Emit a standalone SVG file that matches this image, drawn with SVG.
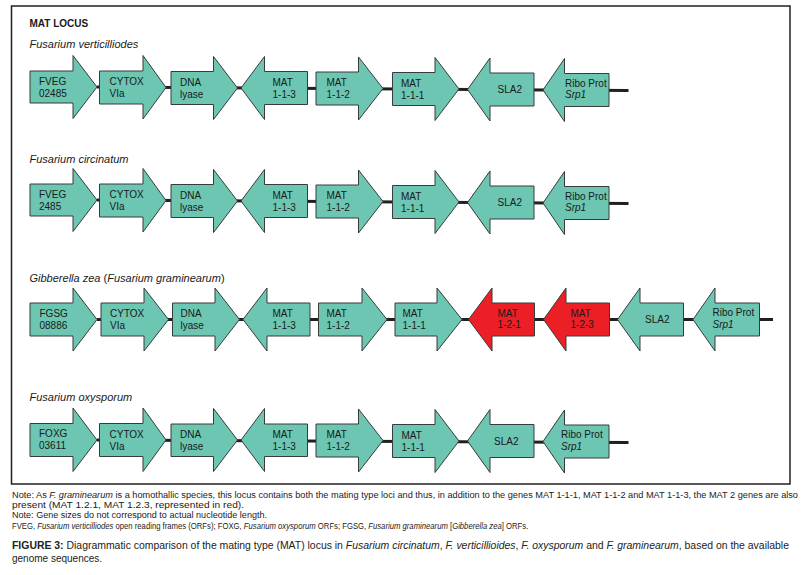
<svg xmlns="http://www.w3.org/2000/svg" width="801" height="575" viewBox="0 0 801 575">
<style>
.bg{fill:#ffffff}
.frame{fill:none;stroke:#231f20;stroke-width:1.5}
.g{fill:#6cc6b1;stroke:#3a3a3a;stroke-width:1}
.r{fill:#ed1f26;stroke:#3a3a3a;stroke-width:1}
.ln{fill:none;stroke:#231f20;stroke-width:3}
text{font-family:"Liberation Sans",Arial,sans-serif;fill:#1a1a1a}
.lb{font-size:10px}
.sp{font-size:11px;font-style:italic}
.it{font-style:italic}
.hd{font-size:10px;font-weight:bold}
.nt{font-size:8.4px;fill:#222}
.cp{font-size:10px;fill:#222}
.b{font-weight:bold}
</style>
<rect class="bg" x="0" y="0" width="801" height="575"/>
<rect class="frame" x="11.5" y="6" width="778.5" height="478"/>
<text class="hd" x="29.5" y="27.3">MAT LOCUS</text>
<text class="sp" x="29.5" y="47.7">Fusarium verticilliodes</text>
<text class="sp" x="29.5" y="163.3">Fusarium circinatum</text>
<text class="sp" x="29.5" y="281.7"><tspan>Gibberella zea</tspan><tspan font-style="normal"> (</tspan><tspan>Fusarium graminearum</tspan><tspan font-style="normal">)</tspan></text>
<text class="sp" x="29.5" y="401">Fusarium oxysporum</text>

<g id="connectors">
<path class="ln" d="M97 87 L628.5 90.5"/>
<path class="ln" d="M97 200 L628.5 203.5"/>
<path class="ln" d="M97 319.5 H773"/>
<path class="ln" d="M97 440 L628.5 442.5"/>
</g>

<!-- Row 1: Fusarium verticilliodes -->
<g id="row1">
<g id="r1-fveg"><path class="g" d="M30 71 H73 V55.5 L97 87 L73 118.5 V103 H30 Z"/><text class="lb" x="39" y="84.5">FVEG</text><text class="lb" x="39" y="96.5">02485</text></g>
<g id="r1-cytox"><path class="g" d="M99.5 71 H143 V55.5 L166 87.5 L143 119 V104 H99.5 Z"/><text class="lb" x="109.5" y="85">CYTOX</text><text class="lb" x="109.5" y="97">VIa</text></g>
<g id="r1-dna"><path class="g" d="M171 71.5 H213.5 V56.5 L237.5 88 L213.5 119.5 V104.5 H171 Z"/><text class="lb" x="180" y="85.5">DNA</text><text class="lb" x="180" y="97.5">lyase</text></g>
<g id="r1-mat113"><path class="g" d="M241 88 L264.5 56.5 V71.5 H307.5 V104.5 H264.5 V119.5 Z"/><text class="lb" x="272.5" y="85.5">MAT</text><text class="lb" x="272.5" y="97.5">1-1-3</text></g>
<g id="r1-mat112"><path class="g" d="M316 72 H358.5 V57 L383 88.5 L358.5 120 V105 H316 Z"/><text class="lb" x="326.5" y="86">MAT</text><text class="lb" x="326.5" y="98">1-1-2</text></g>
<g id="r1-mat111"><path class="g" d="M392.5 72.5 H435 V57.5 L459 89 L435 120.5 V105.5 H392.5 Z"/><text class="lb" x="401" y="86.5">MAT</text><text class="lb" x="401" y="98.5">1-1-1</text></g>
<g id="r1-sla2"><path class="g" d="M467.5 89.5 L490 58 V73 H534 V106 H490 V121 Z"/><text class="lb" x="497.5" y="93">SLA2</text></g>
<g id="r1-ribo"><path class="g" d="M543 90 L564.5 58.5 V73.5 H609 V106.5 H564.5 V121.5 Z"/><text class="lb" x="565" y="86.5">Ribo Prot</text><text class="lb it" x="565" y="98">Srp1</text></g>
</g>

<!-- Row 2: Fusarium circinatum -->
<g id="row2" transform="translate(0,113)">
<g id="r2-fveg"><path class="g" d="M30 71 H73 V55.5 L97 87 L73 118.5 V103 H30 Z"/><text class="lb" x="39" y="84.5">FVEG</text><text class="lb" x="39" y="96.5">2485</text></g>
<g id="r2-cytox"><path class="g" d="M99.5 71 H143 V55.5 L166 87.5 L143 119 V104 H99.5 Z"/><text class="lb" x="109.5" y="85">CYTOX</text><text class="lb" x="109.5" y="97">VIa</text></g>
<g id="r2-dna"><path class="g" d="M171 71.5 H213.5 V56.5 L237.5 88 L213.5 119.5 V104.5 H171 Z"/><text class="lb" x="180" y="85.5">DNA</text><text class="lb" x="180" y="97.5">lyase</text></g>
<g id="r2-mat113"><path class="g" d="M241 88 L264.5 56.5 V71.5 H307.5 V104.5 H264.5 V119.5 Z"/><text class="lb" x="272.5" y="85.5">MAT</text><text class="lb" x="272.5" y="97.5">1-1-3</text></g>
<g id="r2-mat112"><path class="g" d="M316 72 H358.5 V57 L383 88.5 L358.5 120 V105 H316 Z"/><text class="lb" x="326.5" y="86">MAT</text><text class="lb" x="326.5" y="98">1-1-2</text></g>
<g id="r2-mat111"><path class="g" d="M392.5 72.5 H435 V57.5 L459 89 L435 120.5 V105.5 H392.5 Z"/><text class="lb" x="401" y="86.5">MAT</text><text class="lb" x="401" y="98.5">1-1-1</text></g>
<g id="r2-sla2"><path class="g" d="M467.5 89.5 L490 58 V73 H534 V106 H490 V121 Z"/><text class="lb" x="497.5" y="93">SLA2</text></g>
<g id="r2-ribo"><path class="g" d="M543 90 L564.5 58.5 V73.5 H609 V106.5 H564.5 V121.5 Z"/><text class="lb" x="565" y="86.5">Ribo Prot</text><text class="lb it" x="565" y="98">Srp1</text></g>
</g>

<!-- Row 3: Gibberella zea -->
<g id="row3">
<g id="r3-fgsg"><path class="g" d="M30 303 H73 V288 L97 319.5 L73 351 V336 H30 Z"/><text class="lb" x="39.5" y="317">FGSG</text><text class="lb" x="39.5" y="328.5">08886</text></g>
<g id="r3-cytox"><path class="g" d="M101 303 H144 V288 L168.5 319.5 L144 351 V336 H101 Z"/><text class="lb" x="110" y="317">CYTOX</text><text class="lb" x="110" y="328.5">VIa</text></g>
<g id="r3-dna"><path class="g" d="M172.5 303 H215 V288 L239.5 319.5 L215 351 V336 H172.5 Z"/><text class="lb" x="180.5" y="317">DNA</text><text class="lb" x="180.5" y="328.5">lyase</text></g>
<g id="r3-mat113"><path class="g" d="M243 319.5 L267 288 V303 H310 V336 H267 V351 Z"/><text class="lb" x="272.5" y="317">MAT</text><text class="lb" x="272.5" y="328.5">1-1-3</text></g>
<g id="r3-mat112"><path class="g" d="M318.5 303 H362 V288 L387 319.5 L362 351 V336 H318.5 Z"/><text class="lb" x="326.5" y="317">MAT</text><text class="lb" x="326.5" y="328.5">1-1-2</text></g>
<g id="r3-mat111"><path class="g" d="M395 303 H437 V288 L462 319.5 L437 351 V336 H395 Z"/><text class="lb" x="402.5" y="317">MAT</text><text class="lb" x="402.5" y="328.5">1-1-1</text></g>
<g id="r3-mat121"><path class="r" d="M468.5 319.5 L492 288 V303 H534.5 V336 H492 V351 Z"/><text class="lb" x="497.5" y="316.5">MAT</text><text class="lb" x="497.5" y="328">1-2-1</text></g>
<g id="r3-mat123"><path class="r" d="M543.5 319.5 L566 288 V303 H609.5 V336 H566 V351 Z"/><text class="lb" x="570.5" y="316.5">MAT</text><text class="lb" x="570.5" y="328">1-2-3</text></g>
<g id="r3-sla2"><path class="g" d="M617.5 319.5 L640 288 V303 H683.5 V336 H640 V351 Z"/><text class="lb" x="645" y="322.5">SLA2</text></g>
<g id="r3-ribo"><path class="g" d="M693 319.5 L715 288 V303 H759.5 V336 H715 V351 Z"/><text class="lb" x="712.5" y="316">Ribo Prot</text><text class="lb it" x="712.5" y="327.5">Srp1</text></g>
</g>

<!-- Row 4: Fusarium oxysporum -->
<g id="row4" transform="translate(0,352.5)">
<g id="r4-foxg"><path class="g" d="M30 71 H73 V55.5 L97 87.5 L73 119 V104 H30 Z"/><text class="lb" x="39" y="84.5">FOXG</text><text class="lb" x="39" y="96.5">03611</text></g>
<g id="r4-cytox"><path class="g" d="M99.5 71 H143 V55.5 L166 87.5 L143 119 V104 H99.5 Z"/><text class="lb" x="109.5" y="85">CYTOX</text><text class="lb" x="109.5" y="97">VIa</text></g>
<g id="r4-dna"><path class="g" d="M171 71.5 H213.5 V56 L237.5 87.5 L213.5 119 V104 H171 Z"/><text class="lb" x="180" y="85">DNA</text><text class="lb" x="180" y="97">lyase</text></g>
<g id="r4-mat113"><path class="g" d="M241 87.5 L264.5 56 V71.5 H307.5 V104 H264.5 V119 Z"/><text class="lb" x="272.5" y="85">MAT</text><text class="lb" x="272.5" y="97">1-1-3</text></g>
<g id="r4-mat112"><path class="g" d="M316 71.5 H358.5 V56.5 L383 88 L358.5 119.5 V104.5 H316 Z"/><text class="lb" x="326.5" y="85.5">MAT</text><text class="lb" x="326.5" y="97.5">1-1-2</text></g>
<g id="r4-mat111"><path class="g" d="M392.5 72 H435 V57 L459 88.5 L435 120 V105 H392.5 Z"/><text class="lb" x="401.5" y="86">MAT</text><text class="lb" x="401.5" y="98">1-1-1</text></g>
<g id="r4-sla2"><path class="g" d="M467.5 88.5 L490 57 V72 H534 V105 H490 V120 Z"/><text class="lb" x="494" y="92">SLA2</text></g>
<g id="r4-ribo"><path class="g" d="M543 89 L564.5 57.5 V72.5 H609 V105.5 H564.5 V120.5 Z"/><text class="lb" x="561" y="85.5">Ribo Prot</text><text class="lb it" x="561" y="97">Srp1</text></g>
</g>

<!-- Notes and caption -->
<text class="nt" x="12" y="497.5" textLength="786" lengthAdjust="spacingAndGlyphs">Note: As <tspan class="it">F. graminearum</tspan> is a homothallic species, this locus contains both the mating type loci and thus, in addition to the genes MAT 1-1-1, MAT 1-1-2 and MAT 1-1-3, the MAT 2 genes are also</text>
<text class="nt" x="12" y="507.5" textLength="232" lengthAdjust="spacingAndGlyphs">present (MAT 1.2.1, MAT 1.2.3, represented in red).</text>
<text class="nt" x="12" y="517.5" textLength="255" lengthAdjust="spacingAndGlyphs">Note: Gene sizes do not correspond to actual nucleotide length.</text>
<text class="nt" transform="translate(12,528.5) scale(0.918,1)" x="0" y="0">FVEG, <tspan class="it">Fusarium verticilliodes</tspan> open reading frames (ORFs); FOXG, <tspan class="it">Fusarium oxysporum</tspan> ORFs; FGSG, <tspan class="it">Fusarium graminearum</tspan> [<tspan class="it">Gibberella zea</tspan>] ORFs.</text>
<text class="cp" x="12" y="549" textLength="777" lengthAdjust="spacingAndGlyphs"><tspan class="b">FIGURE 3:</tspan> Diagrammatic comparison of the mating type (MAT) locus in <tspan class="it">Fusarium circinatum</tspan>, <tspan class="it">F. verticillioides</tspan>, <tspan class="it">F. oxysporum</tspan> and <tspan class="it">F. graminearum</tspan>, based on the available</text>
<text class="cp" x="12" y="562">genome sequences.</text>
</svg>
